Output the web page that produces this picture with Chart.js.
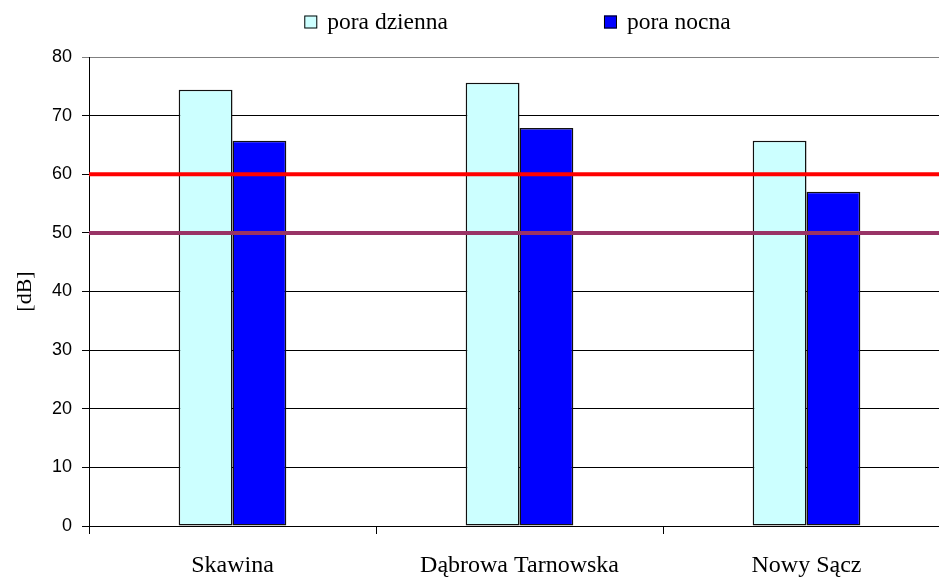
<!DOCTYPE html>
<html>
<head>
<meta charset="utf-8">
<script src="https://cdn.jsdelivr.net/npm/chart.js@4.4.0/dist/chart.umd.min.js"></script>
<style>
  html, body { margin: 0; padding: 0; background: #fff; overflow: hidden; }
  #wrap { width: 950px; height: 578px; }
</style>
</head>
<body>
<div id="wrap"><canvas id="noise-chart" width="950" height="578"></canvas></div>
<script>
// chart data
const categories = ['Skawina', 'Dąbrowa Tarnowska', 'Nowy Sącz'];
const seriesNames = ['pora dzienna', 'pora nocna'];
const dayValues = [74.4, 75.6, 65.7];
const nightValues = [65.7, 67.9, 57.0];
const yTicks = [0, 10, 20, 30, 40, 50, 60, 70, 80];
const limitValues = [60, 50];

const serif = "'Liberation Serif', 'Times New Roman', serif";
const sans = "'Liberation Sans', Arial, sans-serif";
const limitColors = ['#ff0000', '#993366'];

/**
 * Horizontal limit lines, positioned through the y scale
 */
const limitLines = {
  id: 'limitLines',
  afterDatasetsDraw(chart) {
    const { ctx, chartArea, scales } = chart;
    ctx.save();
    ctx.lineWidth = 4;
    limitValues.forEach((v, i) => {
      const y = scales.y.getPixelForValue(v);
      ctx.strokeStyle = limitColors[i];
      ctx.beginPath();
      ctx.moveTo(chartArea.left, y);
      ctx.lineTo(chartArea.right, y);
      ctx.stroke();
    });
    ctx.restore();
  }
};

/**
 * Legend centred over the plot area, wide gap between items
 */
const topLegend = {
  id: 'topLegend',
  afterDraw(chart) {
    const { ctx, chartArea } = chart;
    const box = 13, gapText = 10, gapItems = 156, midY = 22;
    ctx.save();
    ctx.font = '23.5px ' + serif;
    ctx.textBaseline = 'middle';
    const widths = chart.data.datasets.map(ds => box + gapText + ctx.measureText(ds.label).width);
    const total = widths.reduce((a, b) => a + b, 0) + gapItems * (widths.length - 1);
    let x = (chartArea.left + chartArea.right) / 2 - total / 2 - 2;
    chart.data.datasets.forEach((ds, i) => {
      ctx.fillStyle = ds.backgroundColor;
      ctx.fillRect(x, midY - box / 2, box, box);
      ctx.strokeStyle = '#000';
      ctx.lineWidth = 1;
      ctx.strokeRect(x + 0.5, midY - box / 2 + 0.5, box - 1, box - 1);
      ctx.fillStyle = '#000';
      ctx.fillText(ds.label, x + box + gapText, midY + 1);
      x += widths[i] + gapItems;
    });
    ctx.restore();
  }
};

const ctx = document.getElementById('noise-chart').getContext('2d');

new Chart(ctx, {
  type: 'bar',
  data: {
    labels: categories,
    datasets: [
      {
        label: seriesNames[0],
        data: dayValues,
        backgroundColor: '#ccffff',
        borderColor: '#111',
        borderWidth: 1.5,
        borderSkipped: false
      },
      {
        label: seriesNames[1],
        data: nightValues,
        backgroundColor: '#0000ff',
        borderColor: '#111',
        borderWidth: 1.5,
        borderSkipped: false
      }
    ]
  },
  options: {
    responsive: false,
    animation: false,
    datasets: {
      bar: { categoryPercentage: 0.375, barPercentage: 1 }
    },
    layout: { padding: { top: 57, right: 0, left: 0, bottom: 0 } },
    plugins: {
      legend: { display: false },
      tooltip: { enabled: false }
    },
    scales: {
      x: {
        offset: true,
        grid: {
          offset: true,
          drawOnChartArea: false,
          color: '#000',
          tickLength: 8
        },
        border: { color: '#000', width: 1 },
        ticks: {
          color: '#000',
          padding: 17,
          font: { family: serif, size: 24 }
        },
        afterFit(scale) { scale.height = 52; }
      },
      y: {
        min: 0,
        max: 80,
        afterBuildTicks(scale) {
          scale.ticks = yTicks.map(v => ({ value: v }));
        },
        grid: {
          color: c => (c.tick && c.tick.value === 80 ? '#808080' : '#000'),
          tickLength: 7
        },
        border: { color: '#000', width: 1 },
        ticks: {
          color: '#000',
          padding: 10,
          font: { family: sans, size: 18 }
        },
        title: {
          display: true,
          text: '[dB]',
          color: '#000',
          padding: { top: 12, bottom: 0 },
          font: { family: serif, size: 22 }
        },
        afterFit(scale) { scale.width = 89; }
      }
    }
  },
  plugins: [limitLines, topLegend]
});
</script>
</body>
</html>
